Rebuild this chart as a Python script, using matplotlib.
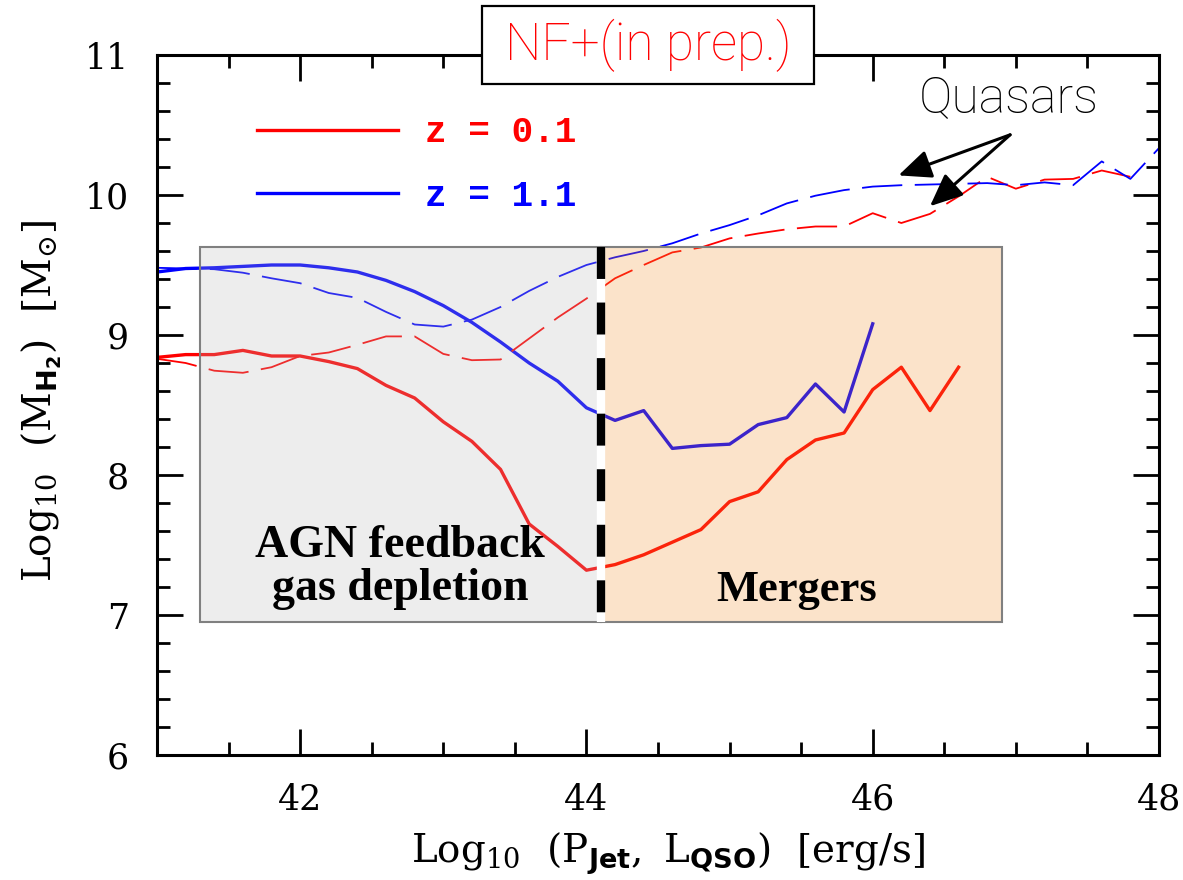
import matplotlib
matplotlib.use('Agg')
import matplotlib.pyplot as plt
from matplotlib.patches import Rectangle
from matplotlib.ticker import MultipleLocator

plt.rcParams['font.family'] = 'DejaVu Serif'
plt.rcParams['mathtext.fontset'] = 'custom'
plt.rcParams['mathtext.rm'] = 'DejaVu Serif'
plt.rcParams['mathtext.bf'] = 'DejaVu Sans:bold'
plt.rcParams['lines.scale_dashes'] = False

# log10 of jet power / QSO luminosity bins [erg/s]
lum = [41.0, 41.2, 41.4, 41.6, 41.8, 42.0, 42.2, 42.4, 42.6, 42.8,
       43.0, 43.2, 43.4, 43.6, 43.8, 44.0, 44.2, 44.4, 44.6, 44.8,
       45.0, 45.2, 45.4, 45.6, 45.8, 46.0, 46.2, 46.4, 46.6, 46.8,
       47.0, 47.2, 47.4, 47.6, 47.8, 48.0]

# log10 M_H2 [Msun], jets (solid) and quasars (dashed)
jet_z01 = [8.84, 8.86, 8.86, 8.89, 8.85, 8.85, 8.81, 8.76, 8.64, 8.55,
           8.38, 8.24, 8.04, 7.65, 7.49, 7.32, 7.36, 7.43, 7.52, 7.61,
           7.81, 7.88, 8.11, 8.25, 8.30, 8.61, 8.77, 8.46, 8.77]
jet_z11 = [9.45, 9.475, 9.48, 9.49, 9.50, 9.50, 9.48, 9.45, 9.39, 9.31,
           9.21, 9.09, 8.95, 8.80, 8.67, 8.48, 8.39, 8.46, 8.19, 8.21,
           8.22, 8.36, 8.41, 8.65, 8.45, 9.08]
qso_z01 = [8.83, 8.80, 8.745, 8.73, 8.77, 8.85, 8.875, 8.93, 8.99, 8.99,
           8.865, 8.82, 8.825, 8.975, 9.125, 9.26, 9.405, 9.50, 9.59, 9.625,
           9.69, 9.725, 9.755, 9.775, 9.775, 9.87, 9.80, 9.865, 9.99, 10.13,
           10.045, 10.11, 10.115, 10.175, 10.13]
qso_z11 = [9.48, 9.475, 9.47, 9.445, 9.405, 9.37, 9.30, 9.265, 9.165, 9.075,
           9.06, 9.11, 9.20, 9.315, 9.415, 9.50, 9.555, 9.60, 9.655, 9.725,
           9.785, 9.855, 9.94, 9.995, 10.035, 10.06, 10.07, 10.075, 10.08, 10.085,
           10.07, 10.09, 10.07, 10.24, 10.115, 10.335]

# shaded regimes
agn_range = (41.3, 44.1)
merger_range = (44.1, 46.9)
regime_mh2 = (6.95, 9.63)

fig = plt.figure(figsize=(11.83, 8.8), dpi=100)
ax = fig.add_axes([157 / 1183, 125 / 880, 1002 / 1183, 700 / 880])

l1, = ax.plot(lum[:len(jet_z01)], jet_z01, color='red', lw=2.4, label='z = 0.1', zorder=2)
l2, = ax.plot(lum[:len(jet_z11)], jet_z11, color='blue', lw=2.4, label='z = 1.1', zorder=2)
ax.plot(lum[:len(qso_z01)], qso_z01, color='red', lw=1.3, dashes=(29, 9), zorder=2)
ax.plot(lum[:len(qso_z11)], qso_z11, color='blue', lw=1.3, dashes=(29, 9), zorder=2)

ax.add_patch(Rectangle((agn_range[0], regime_mh2[0]), agn_range[1] - agn_range[0],
                       regime_mh2[1] - regime_mh2[0],
                       facecolor=(187 / 255, 187 / 255, 187 / 255, 0.25),
                       edgecolor='#808080', lw=1.5, zorder=3))
ax.add_patch(Rectangle((merger_range[0], regime_mh2[0]), merger_range[1] - merger_range[0],
                       regime_mh2[1] - regime_mh2[0],
                       facecolor=(240 / 255, 144 / 255, 44 / 255, 0.25),
                       edgecolor='#808080', lw=1.5, zorder=3))

# divider between regimes: black dashes on a white strip
ax.plot([agn_range[1]] * 2, [regime_mh2[1], regime_mh2[0]], color='white', lw=6,
        solid_capstyle='butt', zorder=4)
ax.plot([agn_range[1]] * 2, [regime_mh2[1], regime_mh2[0]], color='black', lw=6,
        dashes=(23, 17), dash_capstyle='butt', zorder=5)

ax.text(sum(agn_range) / 2, 7.34, 'AGN feedback\ngas depletion', family='Liberation Serif',
        weight='bold', size=33, ha='center', va='center', linespacing=1.05, zorder=6)
ax.text(45.47, 7.18, 'Mergers', family='Liberation Serif', weight='bold', size=32,
        ha='center', va='center', zorder=6)

ax.text(46.95, 10.69, 'Quasars', family='Roboto', weight='light', size=36,
        ha='center', va='center', zorder=6)
arrow = dict(arrowstyle='-|>,head_length=0.8,head_width=0.35', color='black', lw=2.2,
             shrinkA=0, shrinkB=0, mutation_scale=25)
ax.annotate('', xy=(46.18, 10.14), xytext=(46.96, 10.43), arrowprops=arrow, zorder=6)
ax.annotate('', xy=(46.40, 9.92), xytext=(46.96, 10.43), arrowprops=arrow, zorder=6)

leg = ax.legend(handles=[l1, l2], loc='upper left', bbox_to_anchor=(0.0995, 0.914),
                frameon=False, borderpad=0, borderaxespad=0, handlelength=3.9,
                handletextpad=0.75, labelspacing=0.8,
                prop={'family': 'Liberation Mono', 'weight': 'bold', 'size': 26},
                labelcolor='linecolor')
leg.set_zorder(7)

ax.set_xlim(41, 48)
ax.set_ylim(6, 11)
ax.xaxis.set_major_locator(MultipleLocator(2))
ax.xaxis.set_minor_locator(MultipleLocator(0.5))
ax.yaxis.set_major_locator(MultipleLocator(1))
ax.yaxis.set_minor_locator(MultipleLocator(0.2))
ax.tick_params(which='both', direction='in', top=True, right=True, width=2, labelsize=25)
ax.tick_params(which='major', length=19)
ax.tick_params(which='minor', length=9.5)
ax.tick_params(axis='x', pad=20)
ax.tick_params(axis='y', pad=20)
for s in ax.spines.values():
    s.set_linewidth(2.2)

ax.set_xlabel(r'$\mathrm{Log}_{10}\ \ (\mathrm{P}_{\mathbf{Jet}},\ \mathrm{L}_{\mathbf{QSO}})\ \ [\mathrm{erg/s}]$',
              fontsize=28)
ax.set_ylabel(r'$\mathrm{Log}_{10}\ \ (\mathrm{M}_{\mathbf{H}_{\mathbf{2}}})\ \ [\mathrm{M}_{\odot}]$',
              fontsize=28)
ax.xaxis.set_label_coords(0.51, -0.108)
ax.yaxis.set_label_coords(-0.093, 0.506)

# label box above the frame
fig.add_artist(Rectangle((481.7 / 1183, 1 - 84 / 880), 332 / 1183, 78 / 880,
                         transform=fig.transFigure, facecolor='white',
                         edgecolor='black', lw=1.6, zorder=10))
fig.text(648 / 1183, 1 - 45 / 880, 'NF+(in prep.)', color='red', family='Roboto',
         weight='light', size=37, ha='center', va='center', zorder=11)

fig.savefig('out.png', dpi=100)
